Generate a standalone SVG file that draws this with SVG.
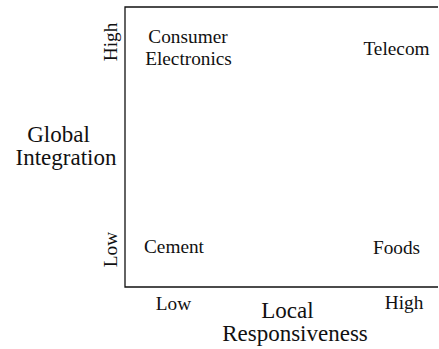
<svg xmlns="http://www.w3.org/2000/svg" width="439" height="349" viewBox="0 0 439 349">
  <style>
    .item { font-size: 19.3px; text-anchor: middle; }
    .tick { font-size: 19.3px; text-anchor: middle; }
    .title { font-size: 23px; text-anchor: middle; }
    .axis { stroke: #111; stroke-width: 1.3; fill: none; }
  </style>
  <rect width="439" height="349" fill="#ffffff"/>

  <!-- matrix frame: top, left and bottom edges -->
  <g id="connectors">
    <path class="axis" d="M438,7 H125 V287 H438"/>
  </g>

  <g font-family="'Liberation Serif', 'Times New Roman', 'DejaVu Serif', serif" fill="#111">
    <!-- quadrant entries -->
    <g id="consumer-electronics">
      <text class="item" x="188" y="43">Consumer</text>
      <text class="item" x="188.5" y="65">Electronics</text>
    </g>
    <g id="telecom">
      <text class="item" x="396.5" y="55">Telecom</text>
    </g>
    <g id="cement">
      <text class="item" x="174" y="253">Cement</text>
    </g>
    <g id="foods">
      <text class="item" x="396.5" y="254">Foods</text>
    </g>

    <!-- vertical axis -->
    <g id="y-axis">
      <text class="tick" transform="translate(117,42) rotate(-90)">High</text>
      <text class="tick" transform="translate(117,249.5) rotate(-90)">Low</text>
      <text class="title" x="58.5" y="142">Global</text>
      <text class="title" x="66" y="165">Integration</text>
    </g>

    <!-- horizontal axis -->
    <g id="x-axis">
      <text class="tick" x="173.5" y="310">Low</text>
      <text class="tick" x="404" y="309">High</text>
      <text class="title" x="287.5" y="318">Local</text>
      <text class="title" x="295" y="341">Responsiveness</text>
    </g>
  </g>
</svg>
